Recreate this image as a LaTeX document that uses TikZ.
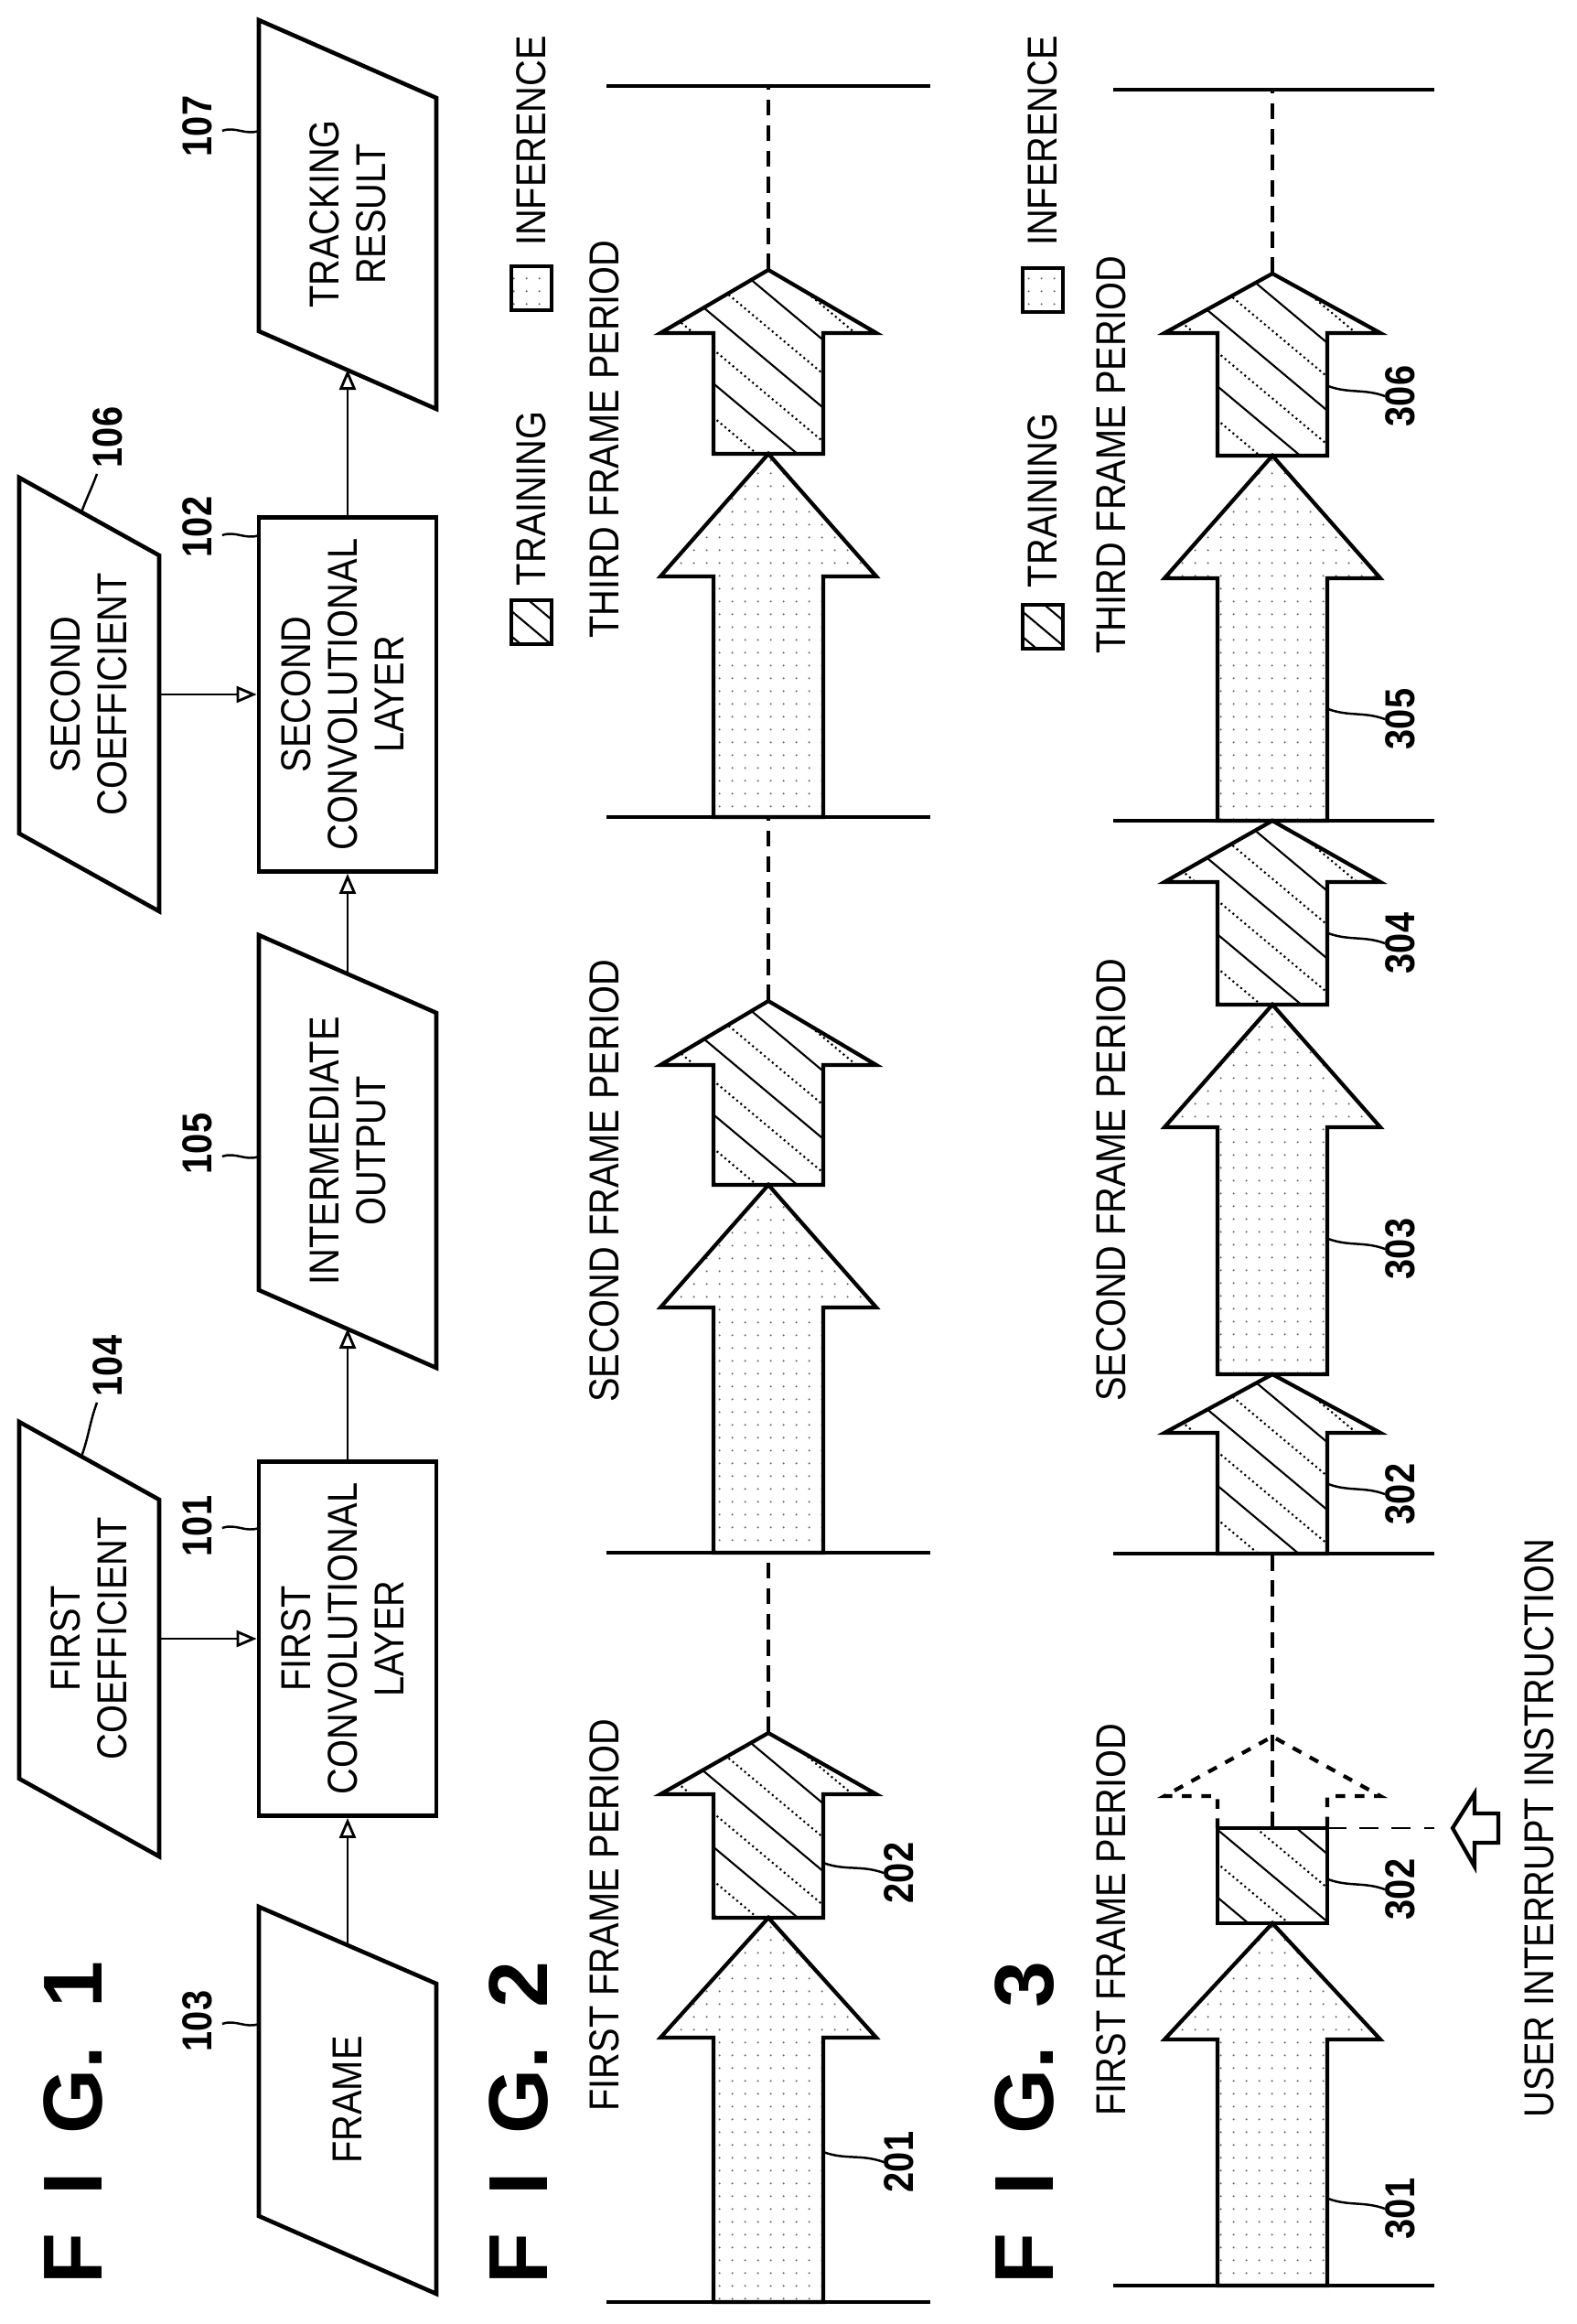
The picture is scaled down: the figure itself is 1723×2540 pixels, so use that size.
\documentclass[tikz,border=0pt]{standalone}
\usepackage{fontspec}
\usepackage{tikz}
\usetikzlibrary{arrows.meta}
\usetikzlibrary{patterns,patterns.meta}
\newfontfamily\condfont[FakeStretch=0.87]{Liberation Sans}
\newcommand\lblfont{\condfont\fontsize{13}{14.5}\selectfont}
\newcommand\numfont{\condfont\bfseries\fontsize{13}{14.5}\selectfont}
\newcommand\figfont{\fontspec{Liberation Sans}\bfseries\fontsize{26}{28}\selectfont}
\newcommand\figsp{\hspace{0.45em}}
% block arrows: #1 centre x, #2 foot, #3 head base, #4 tip
\newcommand\arrowpath[4]{(#1-60,#2) -- (#1-60,#3) -- (#1-118,#3) -- (#1,#4) -- (#1+118,#3) -- (#1+60,#3) -- (#1+60,#2) -- cycle}
\newcommand\inferarrow[4]{%
  \draw[arr,dotfill] \arrowpath{#1}{#2}{#3}{#4};}
\newcommand\trainarrow[4]{%
  \begin{scope}
    \clip \arrowpath{#1}{#2}{#3}{#4};
    \foreach \o in {-296,-222,...,296}
    {
      \draw[hatch] (#1-160,{(#2+#4)/2+\o-134}) -- (#1+160,{(#2+#4)/2+\o+134});
      \draw[hatch,densely dotted] (#1-160,{(#2+#4)/2+\o-97}) -- (#1+160,{(#2+#4)/2+\o+171});
    }
  \end{scope}
  \draw[arr] \arrowpath{#1}{#2}{#3}{#4};}
\tikzset{
  box/.style={draw,line width=1.3pt,minimum width=1.94cm,minimum height=3.87cm,inner sep=0pt,font=\lblfont},
  shp/.style={line width=1.3pt,line join=miter},
  conn/.style={line width=0.8pt,-{Triangle[open,length=2.2mm,width=1.8mm]}},
  lead/.style={line width=0.7pt},
  arr/.style={line width=1.2pt,line join=miter},
  hatch/.style={line width=0.6pt},
  dotfill/.style={pattern={Dots[distance=4pt,radius=0.35pt]},pattern color=black!60},
  bound/.style={line width=0.9pt},
  cline/.style={line width=1.3pt,dash pattern=on 5pt off 3pt},
  lbl/.style={font=\lblfont,rotate=90,inner sep=0pt,align=center},
  num/.style={font=\numfont,rotate=90,inner sep=0pt},
  fig/.style={font=\figfont,rotate=90,inner sep=0pt},
  key/.style={draw,line width=1pt,minimum width=0.44cm,minimum height=0.48cm,inner sep=0pt}
}
\begin{document}
\begin{tikzpicture}[x=0.01cm,y=-0.01cm]
  \useasboundingbox (0,0) rectangle (1723,2540);

  % FIG. 1
  \node[fig] (fig1) at (80,2320) {F\figsp I\figsp G.\figsp 1};
  \draw[shp] (283,22) -- (477,107) -- (477,447) -- (283,362) -- cycle;
  \node[lbl] (trk) at (380,234) {TRACKING\\RESULT};
  \draw[shp] (21,522) -- (174,607) -- (174,996) -- (21,911) -- cycle;
  \node[lbl] (cf2) at (97,759) {SECOND\\COEFFICIENT};
  \node[box] (cv2) at (380,759) {\rotatebox{90}{\begin{tabular}{@{}c@{}}SECOND\\CONVOLUTIONAL\\LAYER\end{tabular}}};
  \draw[shp] (283,1022) -- (477,1107) -- (477,1495) -- (283,1410) -- cycle;
  \node[lbl] (mid) at (380,1258) {INTERMEDIATE\\OUTPUT};
  \draw[shp] (21,1554) -- (174,1639) -- (174,2029) -- (21,1944) -- cycle;
  \node[lbl] (cf1) at (97,1791) {FIRST\\COEFFICIENT};
  \node[box] (cv1) at (380,1791) {\rotatebox{90}{\begin{tabular}{@{}c@{}}FIRST\\CONVOLUTIONAL\\LAYER\end{tabular}}};
  \draw[shp] (283,2084) -- (477,2168) -- (477,2507) -- (283,2422) -- cycle;
  \node[lbl] (frm) at (380,2295) {FRAME};

  \coordinate (trk-in) at (380,404);
  \coordinate (mid-in) at (380,1452);
  \coordinate (mid-out) at (380,1064);
  \coordinate (frm-out) at (380,2126);
  \coordinate (cf2-out) at (174,759);
  \coordinate (cf1-out) at (174,1791);
  \draw[conn] (frm-out) -- (cv1.south);
  \draw[conn] (cv1.north) -- (mid-in);
  \draw[conn] (mid-out) -- (cv2.south);
  \draw[conn] (cv2.north) -- (trk-in);
  \draw[conn] (cf1-out) -- (cv1.west);
  \draw[conn] (cf2-out) -- (cv2.west);

  \node[num] (n107) at (216,138) {107};
  \node[num] (n102) at (216,576) {102};
  \node[num] (n105) at (216,1250) {105};
  \node[num] (n101) at (216,1668) {101};
  \node[num] (n103) at (216,2209) {103};
  \node[num] (n106) at (118,478) {106};
  \node[num] (n104) at (118,1493) {104};
  \draw[lead] (n107.south) ++(10,5) to[out=20,in=200] (283,143);
  \draw[lead] (n102.south) ++(10,9) to[out=20,in=200] (283,585);
  \draw[lead] (n105.south) ++(10,14) to[out=20,in=200] (283,1264);
  \draw[lead] (n101.south) ++(10,2) to[out=20,in=200] (283,1670);
  \draw[lead] (n103.south) ++(10,3) to[out=20,in=200] (283,2212);
  \draw[lead] (n106.west) ++(-12,6) to[out=-110,in=70] (89,560);
  \draw[lead] (n104.west) ++(-12,6) to[out=-110,in=70] (89,1592);

  % FIG. 2
  \node[fig] (fig2) at (567,2320) {F\figsp I\figsp G.\figsp 2};
  \node[key,pattern={Lines[angle=-40,distance=6pt,line width=0.6pt]}] (tk2) at (581,680) {};
  \node[lbl] (tt2) at (581,545) {TRAINING};
  \node[key,dotfill] (ik2) at (581,315) {};
  \node[lbl] (it2) at (581,154) {INFERENCE};
  \node[lbl] (p21) at (661,2093) {FIRST FRAME PERIOD};
  \node[lbl] (p22) at (661,1291) {SECOND FRAME PERIOD};
  \node[lbl] (p23) at (661,480) {THIRD FRAME PERIOD};
  \foreach \yb in {94,893,1697,2516}
    \draw[bound] (663,\yb) -- (1017,\yb);
  \inferarrow{840}{2516}{2227}{2096}
  \trainarrow{840}{2096}{1961}{1894}
  \inferarrow{840}{1697}{1429}{1295}
  \trainarrow{840}{1295}{1164}{1094}
  \inferarrow{840}{893}{630}{496}
  \trainarrow{840}{496}{364}{295}
  \draw[cline] (840,1894) -- (840,1697);
  \draw[cline] (840,1094) -- (840,893);
  \draw[cline] (840,295) -- (840,94);
  \node[num] (n202) at (983,2047) {202};
  \node[num] (n201) at (983,2363) {201};
  \draw[lead] (900,2036) to[out=-20,in=160] (n202.north);
  \draw[lead] (900,2352) to[out=-20,in=160] (n201.north);

  % FIG. 3
  \node[fig] (fig3) at (1120,2320) {F\figsp I\figsp G.\figsp 3};
  \node[key,pattern={Lines[angle=-40,distance=6pt,line width=0.6pt]}] (tk3) at (1140,685) {};
  \node[lbl] (tt3) at (1140,547) {TRAINING};
  \node[key,dotfill] (ik3) at (1140,317) {};
  \node[lbl] (it3) at (1140,154) {INFERENCE};
  \node[lbl] (p31) at (1215,2098) {FIRST FRAME PERIOD};
  \node[lbl] (p32) at (1215,1290) {SECOND FRAME PERIOD};
  \node[lbl] (p33) at (1215,497) {THIRD FRAME PERIOD};
  \foreach \yb in {98,897,1698,2498}
    \draw[bound] (1217,\yb) -- (1568,\yb);
  \inferarrow{1391}{2498}{2229}{2102}
  % interrupted training
  \begin{scope}
    \clip (1331,2102) rectangle (1451,1998);
    \foreach \o in {-148,-74,...,148}
    {
      \draw[hatch] (1231,{2050+\o-134}) -- (1551,{2050+\o+134});
      \draw[hatch,densely dotted] (1231,{2050+\o-97}) -- (1551,{2050+\o+171});
    }
  \end{scope}
  \draw[arr] (1331,2102) rectangle (1451,1998);
  \draw[arr,dashed] (1331,1998) -- (1331,1963) -- (1273,1963) -- (1391,1898) -- (1509,1963) -- (1451,1963) -- (1451,1998);
  \draw[cline] (1391,1998) -- (1391,1698);
  \coordinate (cut) at (1568,1998);
  \draw[lead,dash pattern=on 6pt off 4pt] (1451,1998) -- (cut);
  \trainarrow{1391}{1698}{1566}{1502}
  \inferarrow{1391}{1502}{1232}{1098}
  \trainarrow{1391}{1098}{964}{897}
  \inferarrow{1391}{897}{632}{498}
  \trainarrow{1391}{498}{364}{299}
  \draw[cline] (1391,299) -- (1391,98);
  \draw[arr] (1588,1998) -- (1612,1960) -- (1612,1982) -- (1638,1982) -- (1638,2014) -- (1612,2014) -- (1612,2040) -- cycle;
  \node[lbl] (usr) at (1683,1998) {USER INTERRUPT INSTRUCTION};
  \node[num] (n306) at (1531,433) {306};
  \node[num] (n305) at (1531,786) {305};
  \node[num] (n304) at (1531,1031) {304};
  \node[num] (n303) at (1531,1365) {303};
  \node[num] (n302b) at (1531,1633) {302};
  \node[num] (n302a) at (1531,2065) {302};
  \node[num] (n301) at (1531,2414) {301};
  \draw[lead] (1452,422) to[out=-20,in=160] (n306.north);
  \draw[lead] (1452,775) to[out=-20,in=160] (n305.north);
  \draw[lead] (1452,1020) to[out=-20,in=160] (n304.north);
  \draw[lead] (1452,1354) to[out=-20,in=160] (n303.north);
  \draw[lead] (1452,1622) to[out=-20,in=160] (n302b.north);
  \draw[lead] (1452,2054) to[out=-20,in=160] (n302a.north);
  \draw[lead] (1452,2403) to[out=-20,in=160] (n301.north);
\end{tikzpicture}
\end{document}
